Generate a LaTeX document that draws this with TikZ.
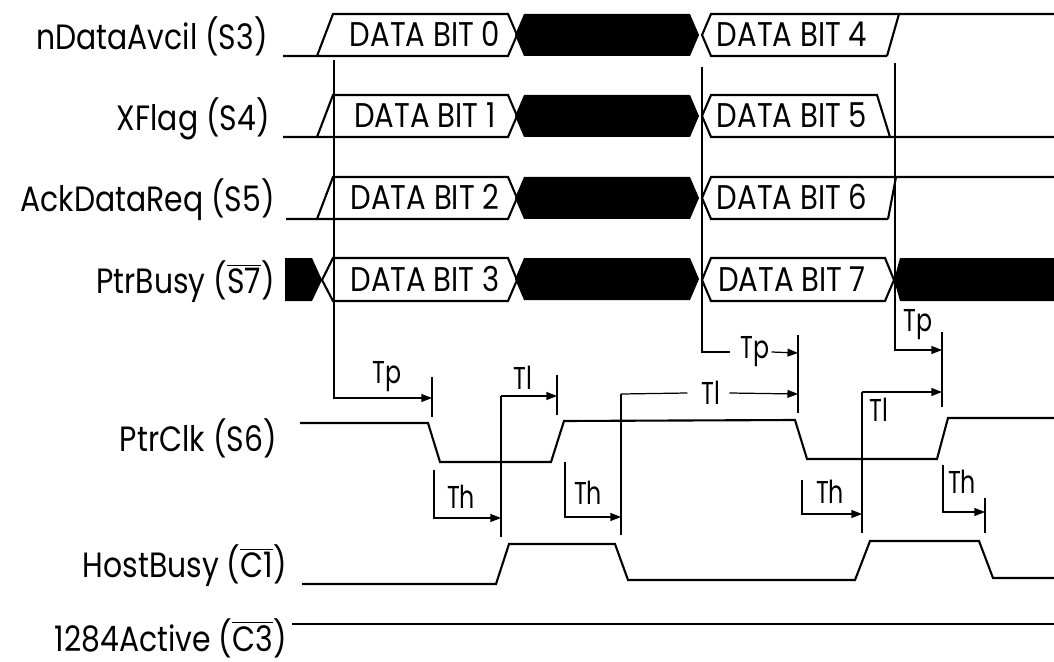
\documentclass[tikz,border=0pt]{standalone}
\usepackage{fontspec}
\setmainfont{Poppins}
\newfontfamily\narrowfont[FakeStretch=0.75]{Poppins}
\newfontfamily\tallfont[FakeStretch=0.85]{Poppins}
\usetikzlibrary{arrows.meta}
\newcommand\ovl[1]{$\overline{\mbox{#1}}$}

\begin{document}
\begin{tikzpicture}[x=0.02cm, y=-0.02cm,
  sig/.style={line width=1.2pt, line join=miter},
  guide/.style={line width=0.7pt},
  tarr/.style={guide, -{Triangle[length=6pt,width=4.5pt]}},
  lbl/.style={anchor=base east, inner sep=0pt, font=\tallfont\fontsize{20}{22}\selectfont},
  bit/.style={anchor=base, inner sep=0pt, font=\tallfont\fontsize{19.5}{22}\selectfont},
  tlab/.style={inner sep=0pt, font=\narrowfont\fontsize{18}{20}\selectfont}
]
\useasboundingbox (0,0) rectangle (1054,662);

% signal names
\node[lbl] (s3) at (268,50) {nDataAvcil (S3)};
\node[lbl] (s4) at (270,131) {XFlag (S4)};
\node[lbl] (s5) at (275,212) {AckDataReq (S5)};
\node[lbl] (s7) at (275,293) {PtrBusy (\ovl{S7})};
\node[lbl] (s6) at (277,451) {PtrClk (S6)};
\node[lbl] (c1) at (287,577) {HostBusy (\ovl{C1})};
\node[lbl] (c3) at (287,651) {1284Active (\ovl{C3})};

% data lines
\foreach \t in {14,95,177,258} {
  \fill (515,\t+21) -- (524,\t) -- (690,\t) -- (699,\t+21) -- (690,\t+42) -- (524,\t+42) -- cycle;
}
\foreach \t/\x in {14/283,95/283,177/286} {
  \draw[sig] (\x,\t+42) -- (508,\t+42) -- (517,\t+21) -- (508,\t) -- (333,\t) -- (317,\t+42);
}
\fill (285,258) -- (312,258) -- (322,280) -- (312,301) -- (285,301) -- cycle;
\draw[sig] (322,280) -- (333,258) -- (508,258) -- (517,280) -- (508,301) -- (333,301) -- cycle;

\draw[sig] (887,56) -- (711,56) -- (702,35) -- (711,14) -- (1054,14);
\draw[sig] (887,56) -- (899,14);
\draw[sig] (1054,137) -- (711,137) -- (702,116) -- (711,95) -- (877,95) -- (890,137);
\draw[sig] (888,219) -- (711,219) -- (702,198) -- (711,177) -- (1054,177);
\draw[sig] (888,219) -- (896,177);
\draw[sig] (702,280) -- (711,258) -- (885,258) -- (894,280) -- (885,301) -- (711,301) -- cycle;
\fill (894,280) -- (900,258) -- (1054,258) -- (1054,301) -- (900,301) -- cycle;

\node[bit] (b0) at (425,47) {DATA BIT 0};
\node[bit] (b1) at (425,128) {DATA BIT 1};
\node[bit] (b2) at (425,210) {DATA BIT 2};
\node[bit] (b3) at (425,291) {DATA BIT 3};
\node[bit] (b4) at (792,47) {DATA BIT 4};
\node[bit] (b5) at (792,128) {DATA BIT 5};
\node[bit] (b6) at (792,210) {DATA BIT 6};
\node[bit] (b7) at (792,291) {DATA BIT 7};

% control lines
\draw[sig] (300,423) -- (428,423) -- (440,462) -- (551,462) -- (564,421) -- (795,420)
  -- (807,459) -- (937,459) -- (948,418) -- (1054,418);
\draw[sig] (302,584) -- (496,584) -- (509,544) -- (615,544) -- (628,580) -- (855,580)
  -- (870,541) -- (979,541) -- (993,578) -- (1054,578);
\draw[sig] (292,624) -- (1054,624);

% timing
\coordinate (gA) at (334,60);
\coordinate (pA) at (432,398);
\draw[tarr] (gA) |- (pA);
\draw[guide] (pA) ++(0,-21) -- ++(0,40);
\node[tlab] (tp1) at (387,377) {Tp};

\coordinate (gB) at (501,396);
\coordinate (pB) at (557,396);
\draw[tarr] (gB) -- (pB);
\draw[guide] (gB) -- ++(0,141);
\draw[guide] (pB) ++(0,-21) -- ++(0,40);
\node[tlab] (tl1) at (523,378) {Tl};

\coordinate (gD) at (702,67);
\coordinate (pD) at (798,353);
\node[tlab] (tp2) at (755,352) {Tp};
\draw[guide] (gD) |- ([xshift=-6pt]tp2.west);
\draw[tarr] ([xshift=1pt]tp2.east) -- (pD);
\draw[guide] (pD) ++(0,-18) -- ++(0,78);

\coordinate (gC) at (621,394);
\coordinate (pE) at (798,394);
\node[tlab] (tl2) at (711,393) {Tl};
\draw[guide] (gC) -- ([xshift=-8pt]tl2.west);
\draw[tarr] ([xshift=5pt]tl2.east) -- (pE);
\draw[guide] (gC) -- ++(0,141);

\coordinate (gF) at (895,63);
\coordinate (pF) at (942,350);
\draw[tarr] (gF) |- (pF);
\draw[guide] (pF) ++(0,-18) -- ++(0,75);
\node[tlab] (tp3) at (918,325) {Tp};

\coordinate (gG) at (862,392);
\coordinate (pG) at (942,392);
\draw[tarr] (gG) -- (pG);
\draw[guide] (gG) -- ++(0,141);
\node[tlab] (tl3) at (879,410) {Tl};

\coordinate (hA) at (434,470);
\coordinate (qA) at (501,518);
\draw[tarr] (hA) |- (qA);
\node[tlab] (th1) at (461,497) {Th};

\coordinate (hB) at (565,462);
\coordinate (qB) at (621,517);
\draw[tarr] (hB) |- (qB);
\node[tlab] (th2) at (588,493) {Th};

\coordinate (hC) at (802,480);
\coordinate (qC) at (862,514);
\draw[tarr] (hC) |- (qC);
\node[tlab] (th3) at (830,492) {Th};

\coordinate (hD) at (943,465);
\coordinate (qD) at (985,512);
\draw[tarr] (hD) |- (qD);
\draw[guide] (qD) ++(0,-14) -- ++(0,35);
\node[tlab] (th4) at (962,482) {Th};
\end{tikzpicture}
\end{document}
